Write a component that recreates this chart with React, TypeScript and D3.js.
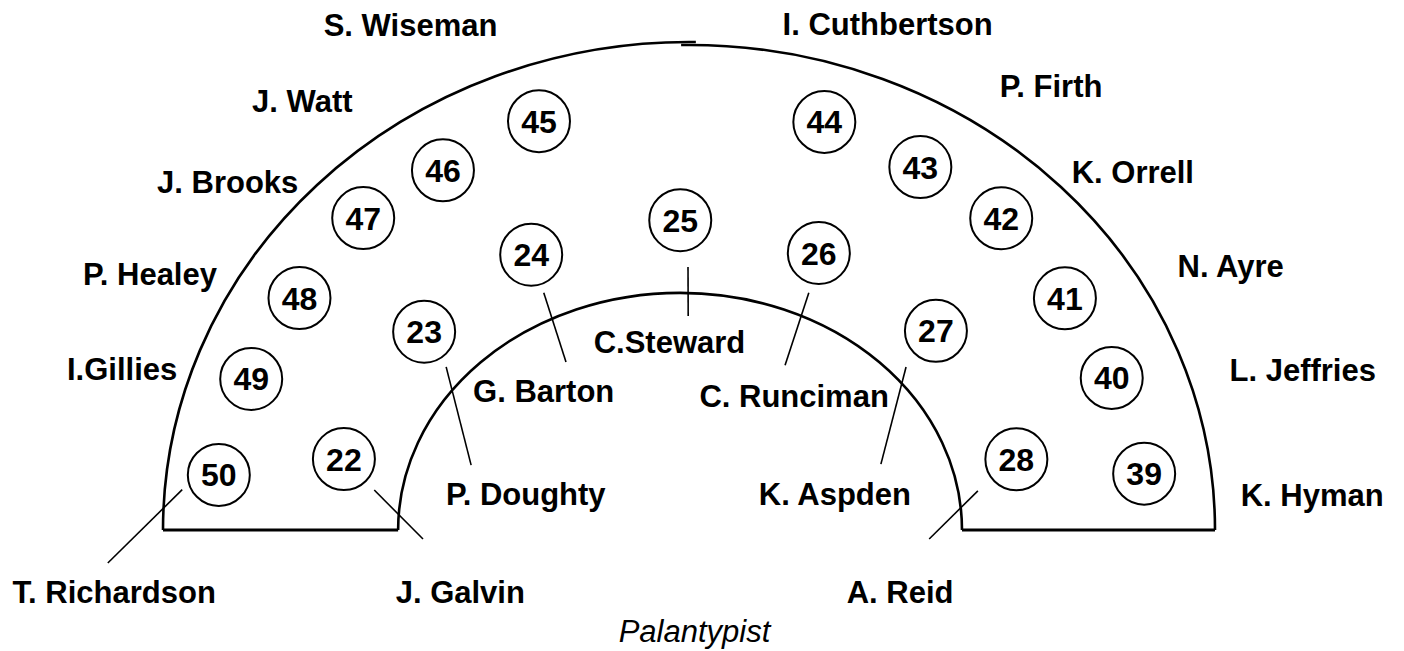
import * as d3 from "d3";
import { useEffect, useRef } from "react";

// seat numbers and names, outer ring left to right
const outerSeats = [50, 49, 48, 47, 46, 45, 44, 43, 42, 41, 40, 39];
const outerNames = [
  "T. Richardson",
  "I.Gillies",
  "P. Healey",
  "J. Brooks",
  "J. Watt",
  "S. Wiseman",
  "I. Cuthbertson",
  "P. Firth",
  "K. Orrell",
  "N. Ayre",
  "L. Jeffries",
  "K. Hyman",
];
// polar layout: angle in degrees, ring as a fraction of the outer wall
const outerSeatAngle = [172.8, 159.6, 147.3, 134.1, 122.4, 108.8, 72.9, 59.4, 47.1, 33.6, 21.2, 7.6];
const outerSeatRing = [0.901, 0.888, 0.88, 0.89, 0.873, 0.885, 0.875, 0.864, 0.872, 0.858, 0.862, 0.873];
const outerNameAngle = [186.6, 163.0, 152.9, 140.9, 129.9, 117.1, 70.0, 52.9, 41.0, 27.7, 15.7, 3.5];
const outerNameRing = [1.1, 1.127, 1.151, 1.13, 1.146, 1.162, 1.104, 1.141, 1.118, 1.163, 1.212, 1.187];

// inner ring
const innerSeats = [22, 23, 24, 25, 26, 27, 28];
const innerNames = [
  "J. Galvin",
  "P. Doughty",
  "G. Barton",
  "C.Steward",
  "C. Runciman",
  "K. Aspden",
  "A. Reid",
];
const innerSeatAngle = [167.5, 141.1, 118.0, 91.5, 66.5, 41.0, 13.1];
const innerSeatRing = [0.672, 0.647, 0.639, 0.635, 0.619, 0.622, 0.639];
const innerNameAngle = [196.3, 166.6, 134.1, 95.5, 54.0, 14.9, -17.6];
const innerNameRing = [0.453, 0.319, 0.397, 0.387, 0.34, 0.287, 0.421];

// leader lines from a seat to its name: [angle, ring] at each end
const leaderSeats = [50, 22, 23, 24, 25, 26, 27, 28];
const leaderFrom = [
  [175.1, 0.967],
  [172.2, 0.604],
  [144.1, 0.57],
  [119.6, 0.559],
  [90.2, 0.539],
  [64.9, 0.537],
  [39.0, 0.531],
  [8.3, 0.555],
];
const leaderTo = [
  [183.5, 1.107],
  [182.1, 0.506],
  [162.2, 0.435],
  [124.2, 0.416],
  [90.2, 0.4385],
  [61.6, 0.384],
  [20.3, 0.389],
  [-2.3, 0.457],
];

// inner wall: x offset, half width, height (fractions of the outer wall)
const innerWall = { offset: -0.017, rx: 0.536, ry: 0.486 };

const stenographer = { label: "Palantypist", angle: -87.1, ring: 0.207 };

const FONT = "'Liberation Sans', Arial, Helvetica, sans-serif";

const SeatingPlan = () => {
  const svgRef = useRef<SVGSVGElement>(null);

  useEffect(() => {
    const width = 1404;
    const height = 651;

    const svg = d3.select(svgRef.current);
    svg.selectAll("*").remove();

    const xScale = d3.scaleLinear().domain([-1, 1]).range([163, 1215]);
    const yScale = d3.scaleLinear().domain([0, 1]).range([530, 42]);

    const project = (angle: number, ring: number): [number, number] => {
      const a = (angle * Math.PI) / 180;
      return [xScale(ring * Math.cos(a)), yScale(ring * Math.sin(a))];
    };

    const rxPx = xScale(1) - xScale(0);
    const ryPx = yScale(0) - yScale(1);

    // === Walls ===
    const walls = svg
      .append("g")
      .attr("fill", "none")
      .attr("stroke", "#000")
      .attr("stroke-width", 2.6);

    walls
      .append("path")
      .attr(
        "d",
        `M${xScale(-1)},${yScale(0)} A${rxPx},${ryPx} 0 0 1 ${xScale(0)},${yScale(1)} L${xScale(0.013)},${yScale(1)}`
      );

    const ryRight = ryPx * 0.994;
    walls
      .append("path")
      .attr(
        "d",
        `M${xScale(-0.015)},${yScale(0.994)} L${xScale(0)},${yScale(0.994)} A${rxPx},${ryRight} 0 0 1 ${xScale(1)},${yScale(0)}`
      );

    const inLeft = innerWall.offset - innerWall.rx;
    const inRight = innerWall.offset + innerWall.rx;
    walls
      .append("path")
      .attr(
        "d",
        `M${xScale(inLeft)},${yScale(0)} A${xScale(innerWall.rx) - xScale(0)},${yScale(0) - yScale(innerWall.ry)} 0 0 1 ${xScale(inRight)},${yScale(0)}`
      );

    // floor lines
    [
      [-1, inLeft],
      [inRight, 1],
    ].forEach(([a, b]) => {
      walls
        .append("line")
        .attr("x1", xScale(a))
        .attr("x2", xScale(b))
        .attr("y1", yScale(0))
        .attr("y2", yScale(0))
        .attr("stroke-width", 3);
    });

    // === Leader lines ===
    leaderSeats.forEach((_, i) => {
      const [x1, y1] = project(leaderFrom[i][0], leaderFrom[i][1]);
      const [x2, y2] = project(leaderTo[i][0], leaderTo[i][1]);
      svg
        .append("line")
        .attr("x1", x1)
        .attr("y1", y1)
        .attr("x2", x2)
        .attr("y2", y2)
        .attr("stroke", "#000")
        .attr("stroke-width", 1.6);
    });

    // === Seats ===
    const seats = [
      ...outerSeats.map((n, i) => ({ n, angle: outerSeatAngle[i], ring: outerSeatRing[i] })),
      ...innerSeats.map((n, i) => ({ n, angle: innerSeatAngle[i], ring: innerSeatRing[i] })),
    ];

    seats.forEach((s) => {
      const [cx, cy] = project(s.angle, s.ring);
      const g = svg.append("g").attr("transform", `translate(${cx},${cy})`);
      g.append("circle")
        .attr("r", 31)
        .attr("fill", "#fff")
        .attr("stroke", "#000")
        .attr("stroke-width", 2);
      g.append("text")
        .attr("text-anchor", "middle")
        .attr("dy", "0.36em")
        .attr("font-family", FONT)
        .attr("font-weight", "bold")
        .attr("font-size", 32)
        .text(s.n);
    });

    // === Names ===
    const names = [
      ...outerNames.map((t, i) => ({ t, angle: outerNameAngle[i], ring: outerNameRing[i] })),
      ...innerNames.map((t, i) => ({ t, angle: innerNameAngle[i], ring: innerNameRing[i] })),
    ];

    names.forEach((d) => {
      const [x, y] = project(d.angle, d.ring);
      svg
        .append("text")
        .attr("x", x)
        .attr("y", y)
        .attr("dy", "0.36em")
        .attr("text-anchor", "middle")
        .attr("font-family", FONT)
        .attr("font-weight", "bold")
        .attr("font-size", 31)
        .attr("fill", "#000")
        .text(d.t);
    });

    const [px, py] = project(stenographer.angle, stenographer.ring);
    svg
      .append("text")
      .attr("x", px)
      .attr("y", py)
      .attr("dy", "0.36em")
      .attr("text-anchor", "middle")
      .attr("font-family", FONT)
      .attr("font-style", "italic")
      .attr("font-size", 31)
      .text(stenographer.label);

    svg.attr("width", width).attr("height", height);
  }, []);

  return (
    <svg
      ref={svgRef}
      width={1404}
      height={651}
      style={{ position: "absolute", left: 0, top: 0, background: "#fff" }}
    />
  );
};

export default SeatingPlan;
